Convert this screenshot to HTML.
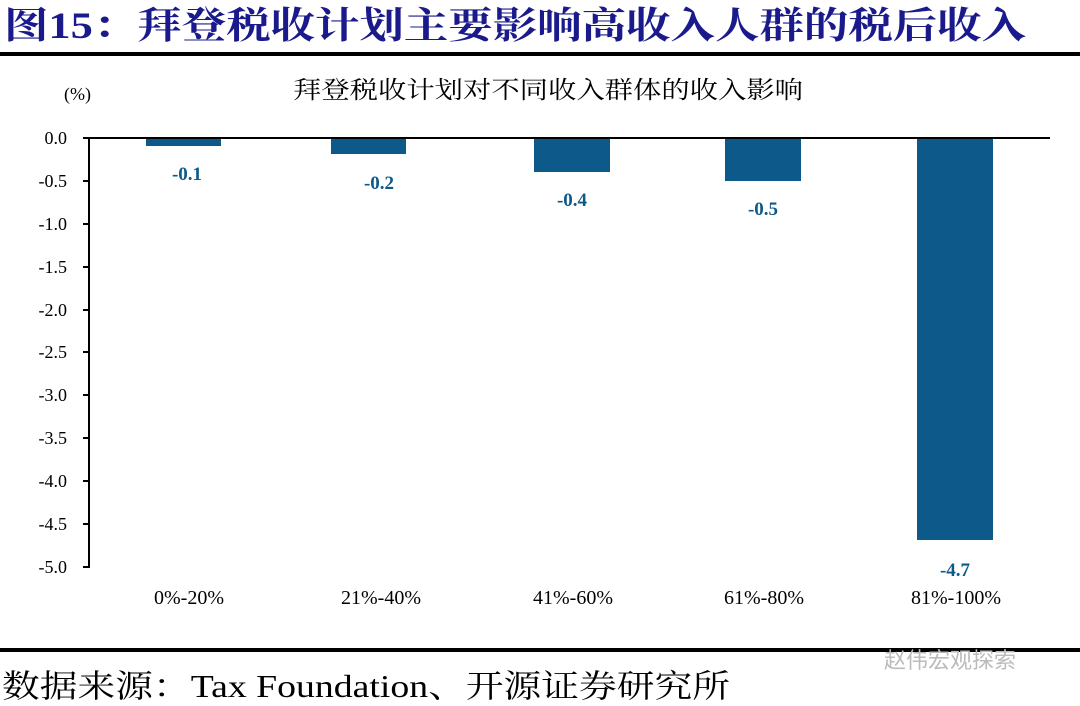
<!DOCTYPE html>
<html><head><meta charset="utf-8"><style>
html,body{margin:0;padding:0;background:#fff;}
body{width:1080px;height:706px;overflow:hidden;position:relative;}
</style></head><body>
<svg width="1080" height="706" xmlns="http://www.w3.org/2000/svg" style="position:absolute;left:0;top:0">
<text x="4" y="38" textLength="1022" lengthAdjust="spacingAndGlyphs" font-family="'Liberation Serif','Noto Serif CJK SC',serif" font-size="37" font-weight="bold" fill="#1a1a8c">图15：拜登税收计划主要影响高收入人群的税后收入</text>
<rect x="0" y="52" width="1080" height="4" fill="#000"/>
<text x="64" y="100" font-family="'Liberation Serif',serif" font-size="18" fill="#000">(%)</text>
<text x="293" y="98" textLength="510" lengthAdjust="spacingAndGlyphs" font-family="'Liberation Serif','Noto Serif CJK SC',serif" font-size="24" fill="#000">拜登税收计划对不同收入群体的收入影响</text>
<g font-family="'Liberation Serif',serif" font-size="18" fill="#000" text-anchor="end">
<text x="67" y="144">0.0</text><text x="67" y="187">-0.5</text><text x="67" y="230">-1.0</text><text x="67" y="273">-1.5</text><text x="67" y="316">-2.0</text><text x="67" y="358">-2.5</text><text x="67" y="401">-3.0</text><text x="67" y="444">-3.5</text><text x="67" y="487">-4.0</text><text x="67" y="530">-4.5</text><text x="67" y="573">-5.0</text>
</g>
<g stroke="#000" stroke-width="2">
<line x1="89" y1="137" x2="89" y2="568"/>
<line x1="83" y1="138" x2="1050" y2="138"/>
<line x1="83" y1="181" x2="89" y2="181"/><line x1="83" y1="224" x2="89" y2="224"/><line x1="83" y1="267" x2="89" y2="267"/><line x1="83" y1="310" x2="89" y2="310"/><line x1="83" y1="352" x2="89" y2="352"/><line x1="83" y1="395" x2="89" y2="395"/><line x1="83" y1="438" x2="89" y2="438"/><line x1="83" y1="481" x2="89" y2="481"/><line x1="83" y1="524" x2="89" y2="524"/><line x1="83" y1="567" x2="89" y2="567"/>
</g>
<g fill="#0d5a8a">
<rect x="146" y="139" width="75" height="7"/>
<rect x="331" y="139" width="75" height="15"/>
<rect x="534" y="139" width="76" height="33"/>
<rect x="725" y="139" width="76" height="42"/>
<rect x="917" y="139" width="76" height="401"/>
</g>
<g font-family="'Liberation Serif',serif" font-size="19" font-weight="bold" fill="#0d5a8a" text-anchor="middle">
<text x="187" y="180">-0.1</text><text x="379" y="189">-0.2</text><text x="572" y="206">-0.4</text><text x="763" y="215">-0.5</text><text x="955" y="576">-4.7</text>
</g>
<g font-family="'Liberation Serif',serif" font-size="20" fill="#000" text-anchor="middle">
<text x="189" y="604">0%-20%</text><text x="381" y="604">21%-40%</text><text x="573" y="604">41%-60%</text><text x="764" y="604">61%-80%</text><text x="956" y="604">81%-100%</text>
</g>
<rect x="0" y="648" width="1080" height="4" fill="#000"/>
<text x="884" y="668" font-family="'Noto Sans CJK SC',sans-serif" font-size="22" fill="#bbb">赵伟宏观探索</text>
<text x="2" y="697" textLength="728" lengthAdjust="spacingAndGlyphs" font-family="'Liberation Serif','Noto Serif CJK SC',serif" font-size="32" fill="#000">数据来源：Tax Foundation、开源证券研究所</text>
</svg>
</body></html>
